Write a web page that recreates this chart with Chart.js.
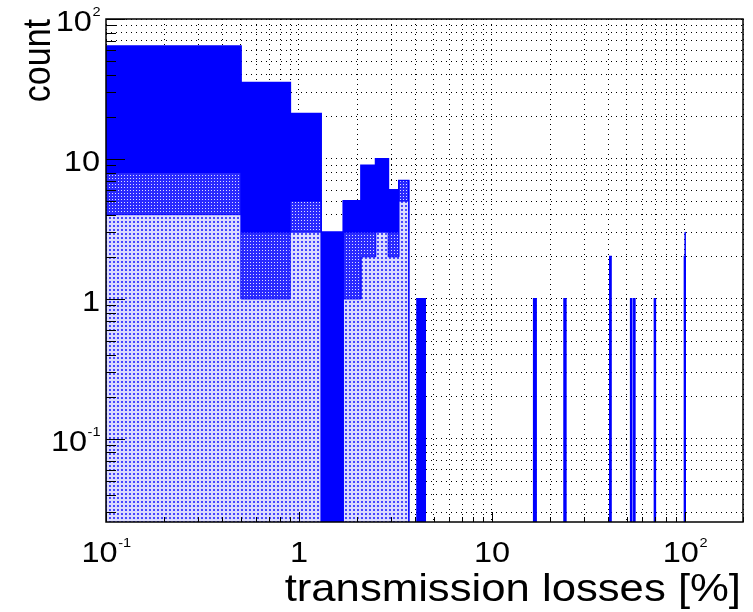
<!DOCTYPE html>
<html>
<head>
<meta charset="utf-8">
<script src="https://cdn.jsdelivr.net/npm/chart.js@4.4.1/dist/chart.umd.min.js"></script>
<style>
  html, body { margin: 0; padding: 0; background: #fff; }
</style>
</head>
<body>
<canvas id="histChart" width="753" height="612"></canvas>
<script>
// histograms use linear bins of 0.4 %, shown on a log axis
const binWidth = 0.4;

// all entries (solid blue)
const totalLow   = [0.1, 0.5, 0.9, 1.3, 1.7, 2.1, 2.5, 2.9, 3.3, 4.1, 16.5, 23.7, 40.9, 52.5, 54.5, 69.7, 99.7];
const totalCount = [64, 35, 21, 3, 5, 9, 10, 6, 7, 1, 1, 1, 2, 1, 1, 1, 2];

// dense hatched subset
const midLow   = [0.1, 0.5, 0.9, 1.7, 2.1, 2.5, 2.9, 3.3];
const midCount = [8, 3, 5, 3, 3, 3, 3, 7];

// light dotted subset
const lightLow   = [0.1, 0.5, 0.9, 1.7, 2.1, 2.5, 2.9, 3.3, 100.1];
const lightCount = [4, 1, 3, 1, 2, 3, 2, 5, 3];

// axes
const xRange = [0.1, 200];
const yRange = [0.0255, 100];
const xMajor = [0.1, 1, 10, 100];
const xMajorLabels = [['10', '-1'], ['1', ''], ['10', ''], ['10', '2']];
const yMajor = [0.1, 1, 10, 100];
const yMajorLabels = [['10', '-1'], ['1', ''], ['10', ''], ['10', '2']];
const xTitle = 'transmission losses [%]';
const yTitle = 'count';

const EMPTY = 1e-4; // below the axis, stands for an empty bin
const FONT = '"Liberation Sans", Arial, Helvetica, sans-serif';
const STRETCH = 1.12; // the picture is a bit wider than tall

// turn bins into points for a stepped line
function toSteps(lows, counts) {
  const pts = [{ x: lows[0], y: EMPTY }];
  lows.forEach((lo, i) => {
    const hi = +(lo + binWidth).toFixed(4);
    pts.push({ x: lo, y: counts[i] });
    const next = lows[i + 1];
    if (next === undefined || Math.abs(next - hi) > 1e-6) {
      pts.push({ x: hi, y: EMPTY });
    }
  });
  return pts;
}

// 1..9 x 10^n inside a range
function logTicks(min, max) {
  const out = [];
  for (let e = Math.floor(Math.log10(min)); e <= Math.ceil(Math.log10(max)); e++) {
    for (let m = 1; m <= 9; m++) {
      const v = parseFloat((m * Math.pow(10, e)).toPrecision(6));
      if (v >= min * 0.9999 && v <= max * 1.0001) out.push(v);
    }
  }
  return out;
}
const isMajor = v => Math.abs(Math.log10(v) - Math.round(Math.log10(v))) < 1e-9;

function makePattern(size, bg, dot, dots) {
  const c = document.createElement('canvas');
  c.width = size; c.height = size;
  const g = c.getContext('2d');
  g.fillStyle = bg;
  g.fillRect(0, 0, size, size);
  g.fillStyle = dot;
  dots.forEach(d => g.fillRect(d[0], d[1], d[2], d[3]));
  return g.createPattern(c, 'repeat');
}

const hatchFill = makePattern(3, '#2a2aff', '#dedeff', [[1, 1, 1, 1]]);
const lightFill = makePattern(4, '#dcdcff', '#4848ff', [[1, 1, 2, 2]]);

function drawPow(ctx, base, exp, x, y, align) {
  ctx.font = '29px ' + FONT;
  const wb = ctx.measureText(base).width * STRETCH;
  ctx.font = '13px ' + FONT;
  const we = exp ? ctx.measureText(exp).width * STRETCH : 0;
  let start = x - (wb + we) / 2;
  if (align === 'right') start = x - (wb + we);
  ctx.save();
  ctx.translate(start, y);
  ctx.scale(STRETCH, 1);
  ctx.font = '29px ' + FONT;
  ctx.fillText(base, 0, 0);
  if (exp) {
    ctx.font = '13px ' + FONT;
    ctx.fillText(exp, wb / STRETCH + 0.5, -15);
  }
  ctx.restore();
}

const rootFrame = {
  id: 'rootFrame',
  afterDatasetsDraw(chart) {
    const { ctx, chartArea: a, scales: { x, y } } = chart;
    ctx.save();
    ctx.strokeStyle = '#000';
    ctx.lineWidth = 1;
    ctx.beginPath();
    logTicks(x.min, x.max).forEach(v => {
      const px = Math.round(x.getPixelForValue(v)) + 0.5;
      const len = isMajor(v) ? 10 : 5;
      ctx.moveTo(px, a.bottom);
      ctx.lineTo(px, a.bottom - len);
    });
    logTicks(y.min, y.max).forEach(v => {
      const py = Math.round(y.getPixelForValue(v)) + 0.5;
      const len = isMajor(v) ? 19 : 10;
      ctx.moveTo(a.left, py);
      ctx.lineTo(a.left + len, py);
    });
    ctx.stroke();

    ctx.lineWidth = 1.5;
    ctx.strokeRect(a.left, a.top, a.right - a.left, a.bottom - a.top);

    ctx.fillStyle = '#000';
    ctx.textBaseline = 'alphabetic';
    ctx.textAlign = 'left';
    xMajor.forEach((v, i) => {
      const [b, e] = xMajorLabels[i];
      drawPow(ctx, b, e, x.getPixelForValue(v), 562, 'center');
    });
    yMajor.forEach((v, i) => {
      const [b, e] = yMajorLabels[i];
      drawPow(ctx, b, e, 100, y.getPixelForValue(v) + 12, 'right');
    });

    // axis titles
    ctx.font = '39px ' + FONT;
    ctx.textAlign = 'right';
    ctx.save();
    ctx.translate(a.right - 2, 601);
    ctx.scale(STRETCH, 1);
    ctx.fillText(xTitle, 0, 0);
    ctx.restore();

    ctx.font = '34px ' + FONT;
    ctx.save();
    ctx.translate(50, a.top);
    ctx.scale(STRETCH, 1);
    ctx.rotate(-Math.PI / 2);
    ctx.fillText(yTitle, 0, 0);
    ctx.restore();
    ctx.restore();
  }
};

const gridStyle = { color: '#000', lineWidth: 1, drawTicks: false };
const borderStyle = { display: false, dash: [1, 4] };

new Chart(document.getElementById('histChart'), {
  type: 'line',
  data: {
    datasets: [
      {
        label: 'all',
        data: toSteps(totalLow, totalCount),
        stepped: 'before',
        borderColor: '#0000ff',
        borderWidth: 2,
        backgroundColor: '#0000ff',
        fill: 'start',
        pointRadius: 0,
        order: 3
      },
      {
        label: 'hatched',
        data: toSteps(midLow, midCount),
        stepped: 'before',
        borderColor: '#0000ff',
        borderWidth: 1,
        backgroundColor: hatchFill,
        fill: 'start',
        pointRadius: 0,
        order: 2
      },
      {
        label: 'dotted',
        data: toSteps(lightLow, lightCount),
        stepped: 'before',
        borderColor: '#0000ff',
        borderWidth: 1,
        backgroundColor: lightFill,
        fill: 'start',
        pointRadius: 0,
        order: 1
      }
    ]
  },
  options: {
    responsive: false,
    animation: false,
    layout: { padding: { left: 0, top: 19, right: 10, bottom: 0 } },
    plugins: { legend: { display: false }, tooltip: { enabled: false } },
    scales: {
      x: {
        type: 'logarithmic',
        position: 'bottom',
        min: xRange[0],
        max: xRange[1],
        ticks: { display: false },
        grid: gridStyle,
        border: borderStyle,
        afterBuildTicks: s => { s.ticks = logTicks(xRange[0], xRange[1]).map(v => ({ value: v })); },
        afterFit: s => { s.height = 90; }
      },
      y: {
        type: 'logarithmic',
        position: 'left',
        min: yRange[0],
        max: yRange[1],
        ticks: { display: false },
        grid: gridStyle,
        border: borderStyle,
        afterBuildTicks: s => { s.ticks = logTicks(yRange[0], yRange[1]).map(v => ({ value: v })); },
        afterFit: s => { s.width = 106; }
      }
    }
  },
  plugins: [rootFrame]
});
</script>
</body>
</html>
